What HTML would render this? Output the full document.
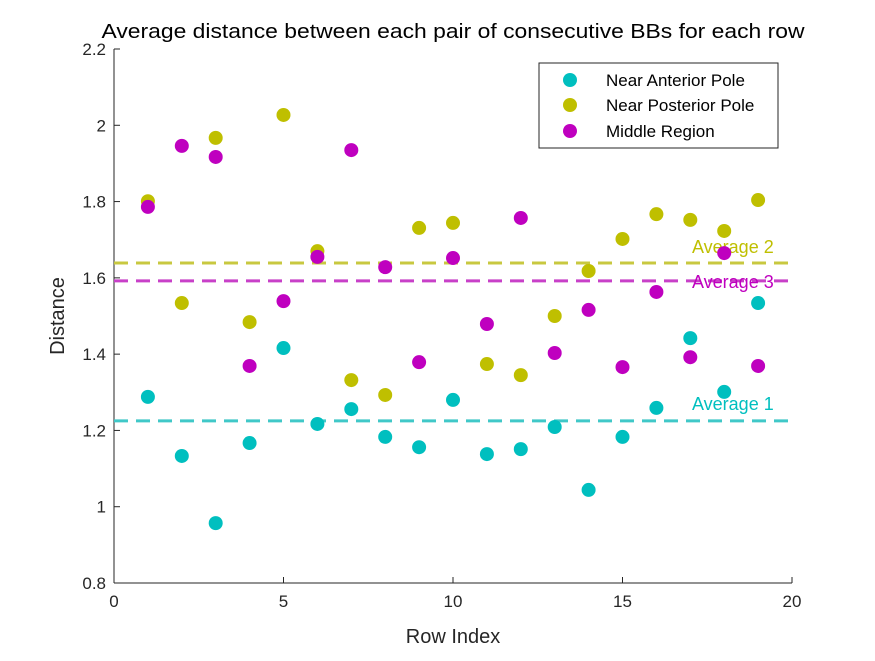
<!DOCTYPE html>
<html><head><meta charset="utf-8"><style>
body{margin:0;background:#fff}
text{font-family:"Liberation Sans",Arial,sans-serif;fill:#262626}
</style></head><body>
<svg id="chart" width="875" height="656" xmlns="http://www.w3.org/2000/svg">
<rect width="875" height="656" fill="#fff"/>
<text x="453" y="38" text-anchor="middle" font-size="20" textLength="703" lengthAdjust="spacingAndGlyphs" style="fill:#000">Average distance between each pair of consecutive BBs for each row</text>
<g id="axes"></g>
<g id="marks"></g>
<g>
<rect x="539" y="63" width="239" height="85" fill="#fff" stroke="#262626" stroke-width="1"/>
<circle cx="570" cy="80" r="7" fill="#00bfbf"/><text x="606" y="86" font-size="17" style="fill:#000">Near Anterior Pole</text>
<circle cx="570" cy="105" r="7" fill="#bfbf00"/><text x="606" y="111" font-size="17" style="fill:#000">Near Posterior Pole</text>
<circle cx="570" cy="131" r="7" fill="#bf00bf"/><text x="606" y="137" font-size="17" style="fill:#000">Middle Region</text>
</g>
</svg>
<script>
const rows=[1,2,3,4,5,6,7,8,9,10,11,12,13,14,15,16,17,18,19];
const anterior=[1.288,1.133,0.957,1.167,1.416,1.217,1.256,1.183,1.156,1.280,1.138,1.151,1.209,1.044,1.183,1.259,1.442,1.301,1.534];
const posterior=[1.801,1.534,1.967,1.484,2.027,1.670,1.332,1.293,1.731,1.744,1.374,1.345,1.500,1.618,1.702,1.767,1.752,1.723,1.804];
const middle=[1.786,1.946,1.917,1.369,1.539,1.655,1.935,1.628,1.379,1.652,1.479,1.757,1.403,1.516,1.366,1.563,1.392,1.665,1.369];
const averages=[1.225,1.639,1.592];
const avgLabels=["Average 1","Average 2","Average 3"];
const xTicks=[0,5,10,15,20];
const yTicks=[0.8,1,1.2,1.4,1.6,1.8,2,2.2];
const NS="http://www.w3.org/2000/svg";
const X0=114,X1=792,Y0=583,Y1=49;
const xs=v=>X0+(v-0)/20*(X1-X0);
const ys=v=>Y0-(v-0.8)/1.4*(Y0-Y1);
function mk(t,a,p){const e=document.createElementNS(NS,t);for(const k in a)e.setAttribute(k,a[k]);p.appendChild(e);return e;}
const ax=document.getElementById('axes'),mg=document.getElementById('marks');
let l=mk('line',{x1:X0,y1:Y0,x2:X1,y2:Y0,stroke:'#262626'},ax);


l=mk('line',{x1:X0,y1:Y0,x2:X0,y2:Y1,stroke:'#262626'},ax);


xTicks.forEach(t=>{mk('line',{x1:xs(t),y1:Y0,x2:xs(t),y2:Y0-6,stroke:'#262626'},ax);
const e=mk('text',{x:xs(t),y:Y0+24,'text-anchor':'middle','font-size':17},ax);e.textContent=t;

});
yTicks.forEach(t=>{mk('line',{x1:X0,y1:ys(t),x2:X0+6,y2:ys(t),stroke:'#262626'},ax);
const e=mk('text',{x:X0-8,y:ys(t)+6,'text-anchor':'end','font-size':17},ax);e.textContent=+t.toFixed(1);

});
let e=mk('text',{x:453,y:643,'text-anchor':'middle','font-size':20},ax);e.textContent='Row Index';


e=mk('text',{x:0,y:0,'text-anchor':'middle','font-size':20,transform:'translate(64,316) rotate(-90)'},ax);e.textContent='Distance';


const cols=['#00bfbf','#bfbf00','#bf00bf'],lcols=['#40c8c8','#c8c840','#c840c8'];
const series=[anterior,posterior,middle],names=['anterior','posterior','middle'];
averages.forEach((a,i)=>{const ln=mk('line',{x1:X0,x2:X1,y1:ys(a),y2:ys(a),stroke:lcols[i],'stroke-width':3,'stroke-dasharray':'14,8'},mg);


const t=mk('text',{x:xs(17.05),y:ys(a)-(i==0?11:i==1?10:-7),'font-size':18,style:'fill:'+cols[i]},mg);t.textContent=avgLabels[i];

});
series.forEach((s,i)=>s.forEach((v,j)=>{const c=mk('circle',{cx:xs(rows[j]),cy:ys(v),r:7,fill:cols[i]},mg);

}));
</script>
</body></html>
